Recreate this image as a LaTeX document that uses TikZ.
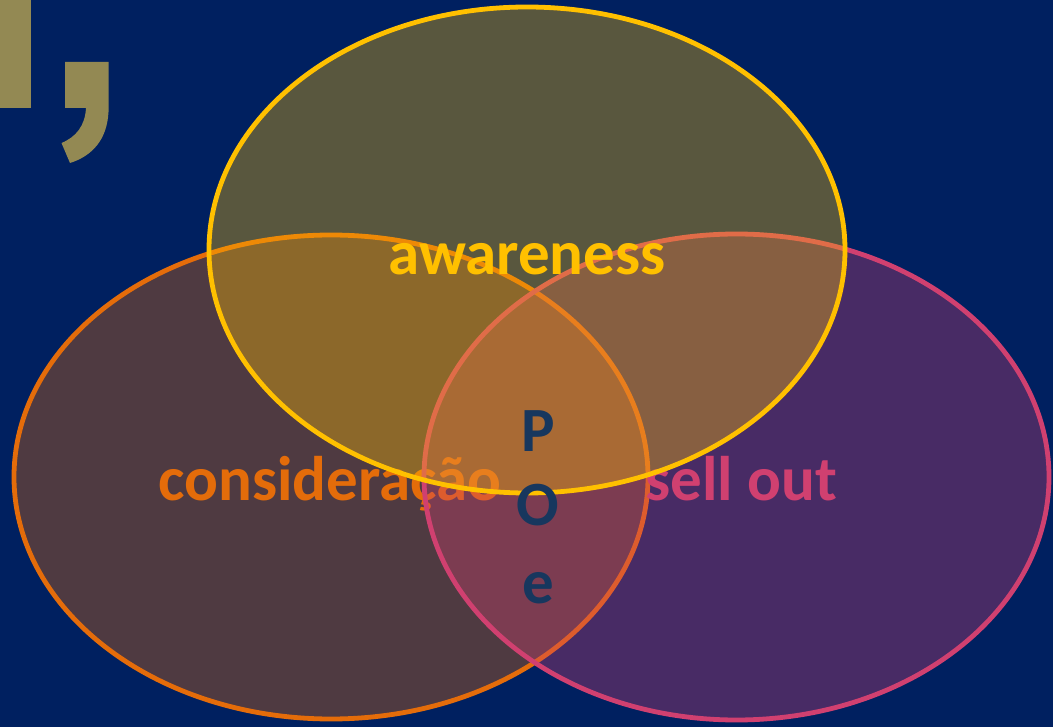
\documentclass[tikz,border=0pt]{standalone}
\usepackage{fontspec}
\setmainfont{Carlito}
\definecolor{bgnavy}{RGB}{0,32,96}
\definecolor{awyellow}{RGB}{255,192,0}
\definecolor{csorange}{RGB}{228,108,10}
\definecolor{sopink}{RGB}{208,64,112}
\definecolor{olive}{RGB}{147,137,83}
\definecolor{poenavy}{RGB}{23,55,94}
\tikzset{
  venn/.style={line width=4.8pt, fill opacity=0.35},
  label/.style={font=\bfseries\fontsize{63}{63}\selectfont, inner sep=0pt, anchor=base},
}
\begin{document}
\begin{tikzpicture}[x=1pt,y=-1pt]
\fill[bgnavy] (0,0) rectangle (1053,727);
\useasboundingbox (0,0) rectangle (1053,727);
% quote mark
\fill[olive] (0,0) rectangle (30.5,108);
\fill[olive] (65,62) -- (108.5,62) -- (108.5,112) .. controls (107,140) and (92,156) .. (70,163)
  -- (61.5,143) .. controls (76,137) and (85,126) .. (86,108) -- (65,108) -- cycle;
% consideracao
\path[venn, draw=csorange, fill=csorange] (331,477) ellipse [x radius=317, y radius=242];
\node[label, text=csorange] (cons) at (330,500) {consideração};
% sell out
\path[venn, draw=sopink, fill=sopink] (736.5,477) ellipse [x radius=312.5, y radius=243];
\node[label, text=sopink] (sell) at (741,500) {sell out};
% awareness
\path[venn, draw=awyellow, fill=awyellow] (527,250) ellipse [x radius=318, y radius=243];
\node[label, text=awyellow] (aw) at (527,275) {awareness};
% POe
\node[label, text=poenavy] (p) at (538,451) {P};
\node[label, text=poenavy] (o) at (538,525) {O};
\node[label, text=poenavy] (e) at (538,603) {e};
\end{tikzpicture}
\end{document}
